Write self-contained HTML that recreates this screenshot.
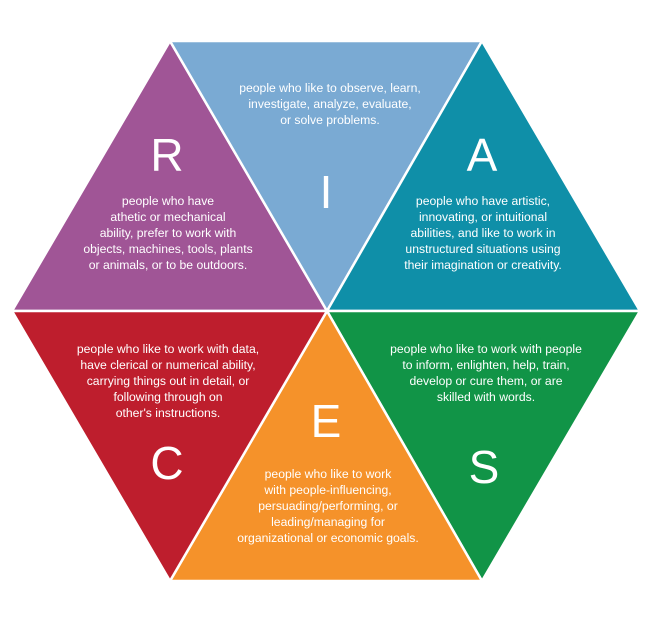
<!DOCTYPE html>
<html><head><meta charset="utf-8"><style>
html,body{margin:0;padding:0;background:#fff;}
svg{display:block}
text{font-family:"Liberation Sans",sans-serif;fill:#fff;}
.t{font-size:12.2px;text-anchor:middle;}
.b{font-size:46px;text-anchor:middle;}
</style></head><body>
<svg width="649" height="630" viewBox="0 0 649 630">
<g stroke="#fff" stroke-width="2.5" stroke-linejoin="miter">
<polygon points="12,311 170,41 327,311" fill="#a05596"/>
<polygon points="170,41 482,41 327,311" fill="#7aaad3"/>
<polygon points="482,41 640,311 327,311" fill="#0f8fa8"/>
<polygon points="640,311 482,581 327,311" fill="#119447"/>
<polygon points="482,581 170,581 327,311" fill="#f5922a"/>
<polygon points="170,581 12,311 327,311" fill="#be1e2d"/>
</g>
<text class="b" x="167" y="171">R</text>
<text class="b" x="326" y="208">I</text>
<text class="b" x="482" y="171">A</text>
<text class="b" x="326" y="437">E</text>
<text class="b" x="167" y="479">C</text>
<text class="b" x="484" y="483">S</text>
<g class="t">
<text class="t" x="330" y="92">people who like to observe, learn,</text>
<text class="t" x="330" y="108">investigate, analyze, evaluate,</text>
<text class="t" x="330" y="124">or solve problems.</text>
<text class="t" x="168" y="205">people who have</text>
<text class="t" x="168" y="221">athetic or mechanical</text>
<text class="t" x="168" y="237">ability, prefer to work with</text>
<text class="t" x="168" y="253">objects, machines, tools, plants</text>
<text class="t" x="168" y="269">or animals, or to be outdoors.</text>
<text class="t" x="483" y="205">people who have artistic,</text>
<text class="t" x="483" y="221">innovating, or intuitional</text>
<text class="t" x="483" y="237">abilities, and like to work in</text>
<text class="t" x="483" y="253">unstructured situations using</text>
<text class="t" x="483" y="269">their imagination or creativity.</text>
<text class="t" x="168" y="353">people who like to work with data,</text>
<text class="t" x="168" y="369">have clerical or numerical ability,</text>
<text class="t" x="168" y="385">carrying things out in detail, or</text>
<text class="t" x="168" y="401">following through on</text>
<text class="t" x="168" y="417">other's instructions.</text>
<text class="t" x="486" y="353">people who like to work with people</text>
<text class="t" x="486" y="369">to inform, enlighten, help, train,</text>
<text class="t" x="486" y="385">develop or cure them, or are</text>
<text class="t" x="486" y="401">skilled with words.</text>
<text class="t" x="328" y="478">people who like to work</text>
<text class="t" x="328" y="494">with people-influencing,</text>
<text class="t" x="328" y="510">persuading/performing, or</text>
<text class="t" x="328" y="526">leading/managing for</text>
<text class="t" x="328" y="542">organizational or economic goals.</text>
</g>
</svg>
</body></html>
